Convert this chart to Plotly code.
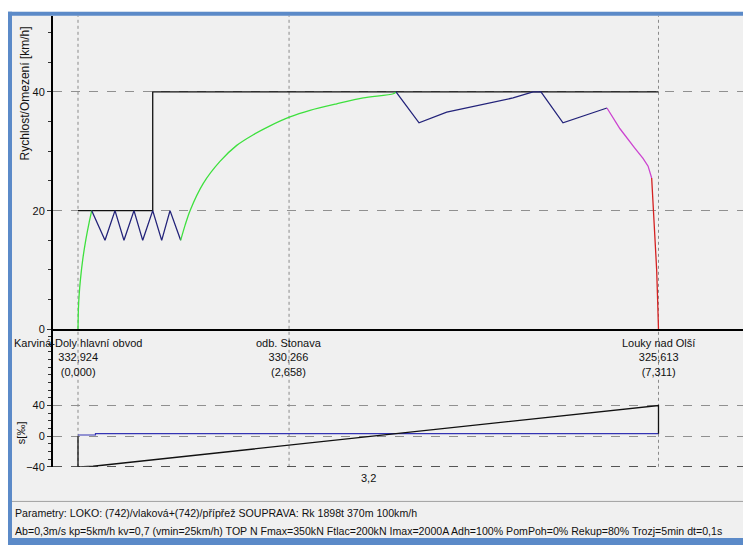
import plotly.graph_objects as go

W, H = 743, 545

# ---- speed profile (km from start, km/h) ----
accel1_km = [0, 0.005, 0.015, 0.03, 0.06, 0.10, 0.14, 0.173]
accel1_v = [0, 3.4, 5.9, 8.3, 11.8, 15.2, 18.0, 20.0]

saw_km = [0.173, 0.340, 0.466, 0.579, 0.705, 0.815, 0.941, 1.054, 1.159, 1.293]
saw_v = [20, 15, 20, 15, 20, 15, 20, 15, 20, 15]

accel2_km = [1.293, 1.35, 1.411, 1.578, 1.788, 1.999, 2.208, 2.418, 2.670, 2.922, 3.258, 3.593, 3.971, 4.005]
accel2_v = [15, 17.6, 20, 24.6, 28.3, 31.0, 32.8, 34.3, 35.8, 36.9, 38.0, 39.0, 39.7, 40]

coast_km = [4.005, 4.295, 4.644, 5.063, 5.479, 5.731, 5.831, 6.108, 6.385, 6.662]
coast_v = [40, 34.8, 36.6, 37.8, 39.0, 40, 40, 34.8, 36.1, 37.3]

brake_km = [6.662, 6.826, 7.015, 7.116, 7.18, 7.225]
brake_v = [37.3, 33.8, 30.5, 28.8, 27.5, 25.5]

stop_km = [7.225, 7.24, 7.254, 7.27, 7.288, 7.30, 7.311]
stop_v = [25.5, 22, 20, 15, 10, 5, 0]

limit_km = [0, 0.941, 0.941, 7.311]
limit_v = [20, 20, 40, 40]

# ---- stations ----
station_names = ["Karviná-Doly hlavní obvod", "odb. Stonava", "Louky nad Olší"]
station_km = [0.0, 2.658, 7.311]
station_chain = ["332,924", "330,266", "325,613"]
station_dist = ["(0,000)", "(2,658)", "(7,311)"]

# ---- gradient panel ----
grad_km = [0, 0.22, 0.22, 7.311]
grad_val = [1.5, 1.5, 3.2, 3.2]
grad_label = "3,2"
grad_label_km = 3.655

prof_km = [0, 0, 0.19, 7.311, 7.311]
prof_val = [0, -40, -39.3, 40, 3.2]

param_lines = [
    "Parametry: LOKO: (742)/vlaková+(742)/přípřež SOUPRAVA: Rk 1898t 370m 100km/h",
    "Ab=0,3m/s kp=5km/h kv=0,7 (vmin=25km/h) TOP N Fmax=350kN Ftlac=200kN Imax=2000A Adh=100% PomPoh=0% Rekup=80% Trozj=5min dt=0,1s",
]


def px(x):
    return x / W


def py(y):
    return 1 - y / H


FONT = "Liberation Sans"
GREEN = "#3ee03e"
NAVY = "#23237a"
MAGENTA = "#cc44d0"
RED = "#d42020"
FRAME = "#5b8ac8"
PANEL = "#f0f0f0"

fig = go.Figure()

fig.add_trace(go.Scatter(x=limit_km, y=limit_v, mode="lines",
                         line=dict(color="#111111", width=1.3), xaxis="x", yaxis="y"))
fig.add_trace(go.Scatter(x=accel1_km, y=accel1_v, mode="lines", line_shape="spline",
                         line=dict(color=GREEN, width=1.3, smoothing=0.6), xaxis="x", yaxis="y"))
fig.add_trace(go.Scatter(x=saw_km, y=saw_v, mode="lines",
                         line=dict(color=NAVY, width=1.3), xaxis="x", yaxis="y"))
fig.add_trace(go.Scatter(x=accel2_km, y=accel2_v, mode="lines", line_shape="spline",
                         line=dict(color=GREEN, width=1.3, smoothing=0.8), xaxis="x", yaxis="y"))
fig.add_trace(go.Scatter(x=coast_km, y=coast_v, mode="lines",
                         line=dict(color=NAVY, width=1.3), xaxis="x", yaxis="y"))
fig.add_trace(go.Scatter(x=brake_km, y=brake_v, mode="lines",
                         line=dict(color=MAGENTA, width=1.3), xaxis="x", yaxis="y"))
fig.add_trace(go.Scatter(x=stop_km, y=stop_v, mode="lines",
                         line=dict(color=RED, width=1.3), xaxis="x", yaxis="y"))

fig.add_trace(go.Scatter(x=grad_km, y=grad_val, mode="lines",
                         line=dict(color="#3434b4", width=1.2), xaxis="x2", yaxis="y2"))
fig.add_trace(go.Scatter(x=prof_km, y=prof_val, mode="lines",
                         line=dict(color="#111111", width=1.3), xaxis="x2", yaxis="y2"))

# km scale: origin at 78 px, 79.4 px per km
X0, SC = 78, 79.4
xr = [(53 - X0) / SC, (W - X0) / SC]

shapes = []
# white margin strips outside the window frame
shapes.append(dict(type="rect", xref="paper", yref="paper", x0=-0.2, x1=1.2, y0=py(12), y1=1.2,
                   fillcolor="white", line_width=0, layer="below"))
shapes.append(dict(type="rect", xref="paper", yref="paper", x0=-0.2, x1=px(8), y0=-0.2, y1=1.2,
                   fillcolor="white", line_width=0, layer="below"))
# window frame: top, left and bottom bands
shapes.append(dict(type="rect", xref="paper", yref="paper", x0=px(8), x1=1.2, y0=py(16), y1=py(12),
                   fillcolor=FRAME, line_width=0, layer="below"))
shapes.append(dict(type="rect", xref="paper", yref="paper", x0=px(8), x1=px(12), y0=-0.2, y1=py(12),
                   fillcolor=FRAME, line_width=0, layer="below"))
shapes.append(dict(type="rect", xref="paper", yref="paper", x0=px(8), x1=1.2, y0=-0.2, y1=py(544),
                   fillcolor=FRAME, line_width=0, layer="below"))
# separator above parameter text
shapes.append(dict(type="line", xref="paper", yref="paper", x0=px(12), x1=1.2, y0=py(507), y1=py(507),
                   line=dict(color="#a0a0a0", width=1)))
# station verticals
for k in station_km:
    shapes.append(dict(type="line", xref="x", yref="paper", x0=k, x1=k, y0=py(472), y1=py(16),
                       line=dict(color="#8a8a8a", width=1, dash="dot"), layer="below"))
# bottom baseline of the gradient panel
shapes.append(dict(type="line", xref="paper", yref="y2", x0=px(53), x1=1.2, y0=-40, y1=-40,
                   line=dict(color="#222222", width=1.6, dash="dash")))

annotations = []
for name, k, ch, d in zip(station_names, station_km, station_chain, station_dist):
    annotations.append(dict(x=k, xref="x", y=py(339), yref="paper", yanchor="top", xanchor="center",
                            text=f"{name}<br>{ch}<br>{d}", showarrow=False,
                            font=dict(family=FONT, size=11, color="#111111"), align="center"))
annotations.append(dict(x=grad_label_km, xref="x", y=py(475), yref="paper", yanchor="top", xanchor="center",
                        text=grad_label, showarrow=False,
                        font=dict(family=FONT, size=11, color="#111111")))
annotations.append(dict(x=px(24.5), y=py(95), xref="paper", yref="paper", xanchor="center", yanchor="middle",
                        text="Rychlost/Omezení [km/h]", textangle=-90, showarrow=False,
                        font=dict(family=FONT, size=12, color="#111111")))
annotations.append(dict(x=px(21), y=py(438), xref="paper", yref="paper", xanchor="center", yanchor="middle",
                        text="s[‰]", textangle=-90, showarrow=False,
                        font=dict(family=FONT, size=11, color="#111111")))
for i, t in enumerate(param_lines):
    annotations.append(dict(x=px(13), y=py(519 + 18 * i), xref="paper", yref="paper",
                            xanchor="left", yanchor="middle",
                            text=t, showarrow=False, font=dict(family=FONT, size=10.6, color="#111111")))

grid = dict(showgrid=True, gridcolor="#909090", gridwidth=1, griddash="dash")

fig.update_layout(
    width=W, height=H, margin=dict(l=0, r=0, t=0, b=0),
    paper_bgcolor=PANEL, plot_bgcolor="rgba(0,0,0,0)",
    showlegend=False, shapes=shapes, annotations=annotations,
    font=dict(family=FONT, size=11, color="#111111"),
    xaxis=dict(domain=[px(53), 1], range=xr, anchor="y", showgrid=False, zeroline=False,
               showticklabels=False, ticks="", showline=True, linecolor="#000000", linewidth=2),
    yaxis=dict(domain=[py(333), py(16)], range=[0, (333 - 16) / 6], anchor="x",
               tickvals=[0, 20, 40], ticks="outside", ticklen=4, tickcolor="#333333",
               minor=dict(dtick=5, tick0=0, ticks="outside", ticklen=3, tickcolor="#333333", showgrid=False),
               zeroline=False, showline=True, linecolor="#000000", linewidth=2, **grid),
    xaxis2=dict(domain=[px(53), 1], range=xr, anchor="y2", matches="x", showgrid=False, zeroline=False,
                showticklabels=False, ticks="", showline=False),
    yaxis2=dict(domain=[py(472), py(333)], range=[-40, -40 + (472 - 333) / 0.775], anchor="x2",
                tickvals=[-40, 0, 40], ticks="outside", ticklen=4, tickcolor="#333333",
                minor=dict(dtick=10, tick0=0, ticks="outside", ticklen=3, tickcolor="#333333", showgrid=False),
                zeroline=False, showline=True, linecolor="#000000", linewidth=2, **grid),
)

fig.write_html("out.html")
